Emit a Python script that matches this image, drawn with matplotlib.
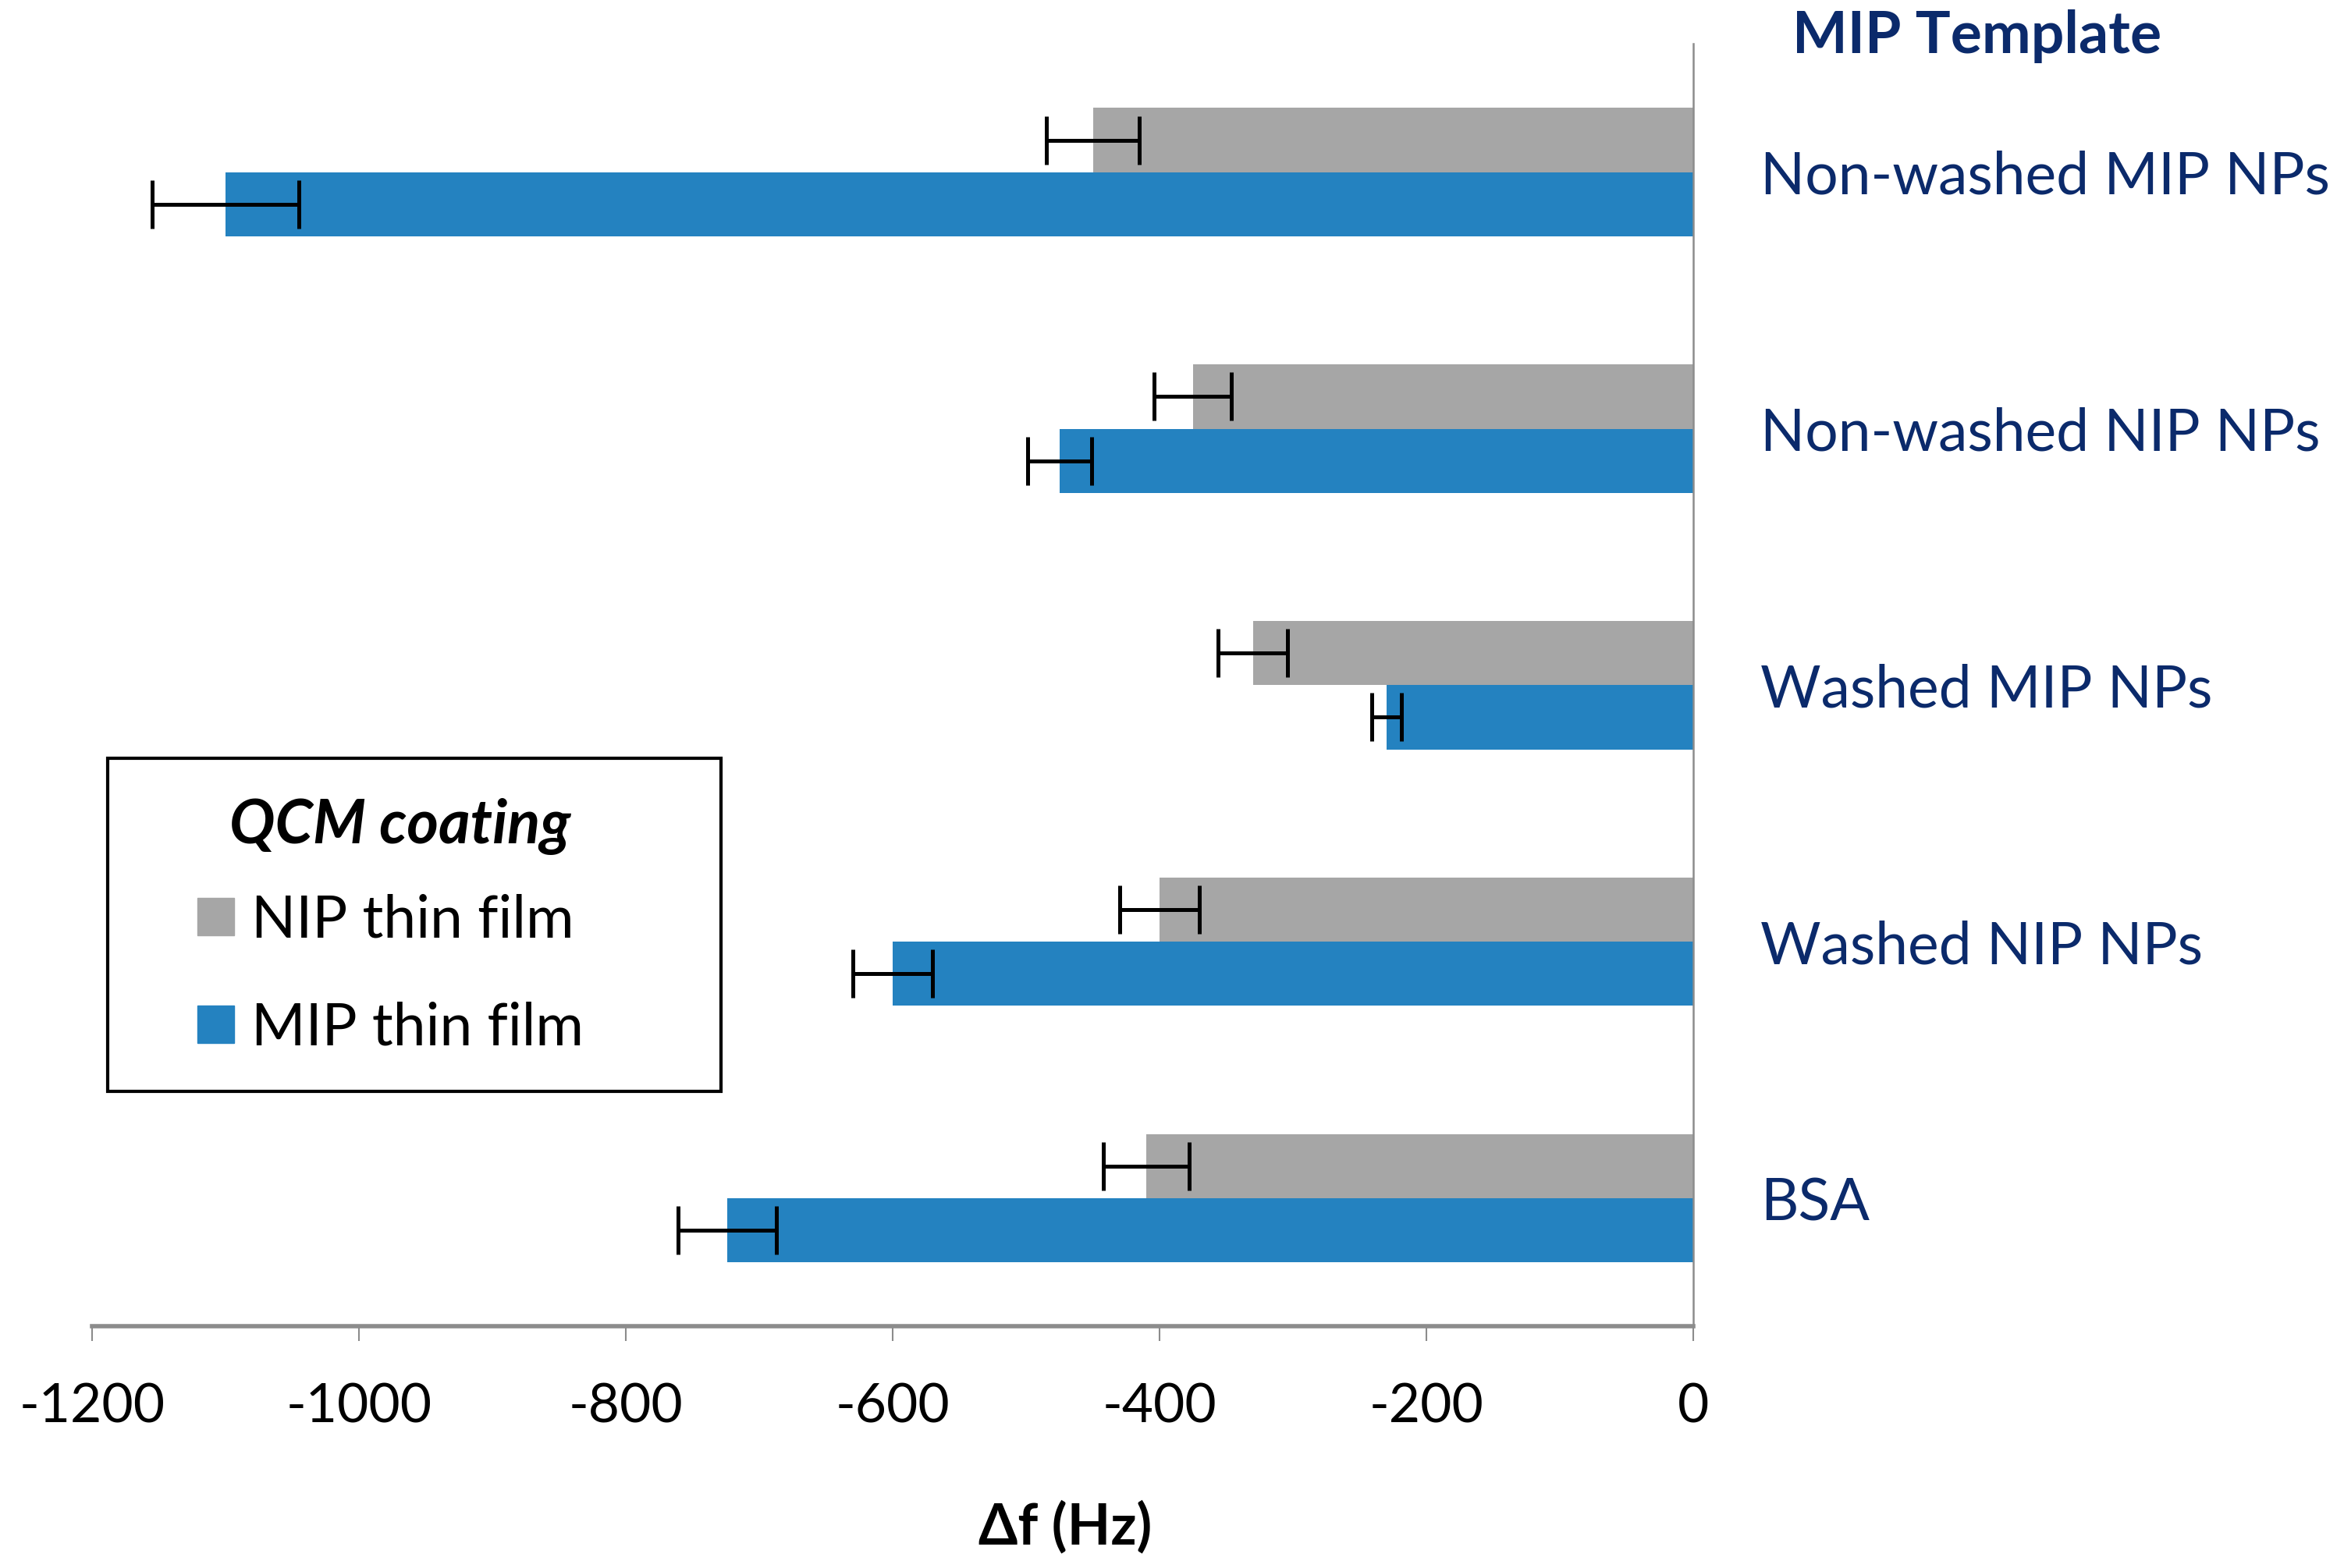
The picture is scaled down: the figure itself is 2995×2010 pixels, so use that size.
import numpy as np
import matplotlib.pyplot as plt
from matplotlib.patches import Patch, Rectangle

# values (Hz)
categories = ['Non-washed MIP NPs', 'Non-washed NIP NPs', 'Washed MIP NPs',
              'Washed NIP NPs', 'BSA']
nip_film = [-450, -375, -330, -400, -410]
nip_err = [35, 29, 26, 30, 32]
mip_film = [-1100, -475, -230, -600, -724]
mip_err = [55, 24, 11, 30, 37]

gray = '#A6A6A6'
blue = '#2482C0'
navy = '#0B2A6B'
axis_gray = '#8C8C8C'

plt.rcParams['font.family'] = ['Lato', 'DejaVu Sans']
plt.rcParams['axes.unicode_minus'] = False

W, H = 2995, 2010
fig = plt.figure(figsize=(W / 100, H / 100), dpi=100)
ax = fig.add_axes([118 / W, 0.154, (2170 - 118) / W, 0.818])

y = np.arange(len(categories))
h = 0.25
err_kw = dict(ecolor='black', elinewidth=3.6, capsize=22, capthick=3.6)
ax.barh(y - h / 2, nip_film, height=h, color=gray, xerr=nip_err,
        error_kw=err_kw, label='NIP thin film')
ax.barh(y + h / 2, mip_film, height=h, color=blue, xerr=mip_err,
        error_kw=err_kw, label='MIP thin film')

ax.set_ylim(len(categories) - 0.5, -0.5)
ax.set_xlim(-1200, 0)
ax.set_xticks(np.arange(-1200, 1, 200))
ax.tick_params(axis='x', direction='out', length=14, width=1.5,
               color=axis_gray, labelsize=50, pad=38)

ax.yaxis.tick_right()
ax.set_yticks(y)
ax.set_yticklabels(categories, fontsize=54, color=navy)
ax.tick_params(axis='y', length=0, pad=62)

for s in ['top', 'left']:
    ax.spines[s].set_visible(False)
ax.spines['bottom'].set_color(axis_gray)
ax.spines['bottom'].set_linewidth(4)
ax.spines['right'].set_color(axis_gray)
ax.spines['right'].set_linewidth(1.8)

ax.set_xlabel('Δf (Hz)', fontsize=52, fontweight='bold')
ax.xaxis.set_label_coords(0.608, -0.136)

fig.text(0.8458, 0.977, 'MIP Template', fontsize=54, fontweight='bold',
         color=navy, ha='center', va='center')

# legend box with its title
ax.add_patch(Rectangle((138 / W, 1 - 1399 / H), (924 - 138) / W,
                       (1399 - 972) / H, transform=fig.transFigure,
                       facecolor='white', edgecolor='black',
                       linewidth=3, zorder=5, clip_on=False))
fig.text(513 / W, 1 - 1059 / H, 'QCM coating', fontsize=56,
         fontweight='bold', fontstyle='italic', ha='center', va='center',
         zorder=7)
handles = [Patch(color=gray, label='NIP thin film'),
           Patch(color=blue, label='MIP thin film')]
leg = ax.legend(handles=handles, loc='center left',
                bbox_to_anchor=(253 / W, 1 - 1249 / H),
                bbox_transform=fig.transFigure, fontsize=54,
                frameon=False, handlelength=0.62, handleheight=0.62,
                handletextpad=0.3, labelspacing=0.92, borderpad=0,
                borderaxespad=0)
leg.set_zorder(6)

fig.savefig('out.png', dpi=100, facecolor='white')
